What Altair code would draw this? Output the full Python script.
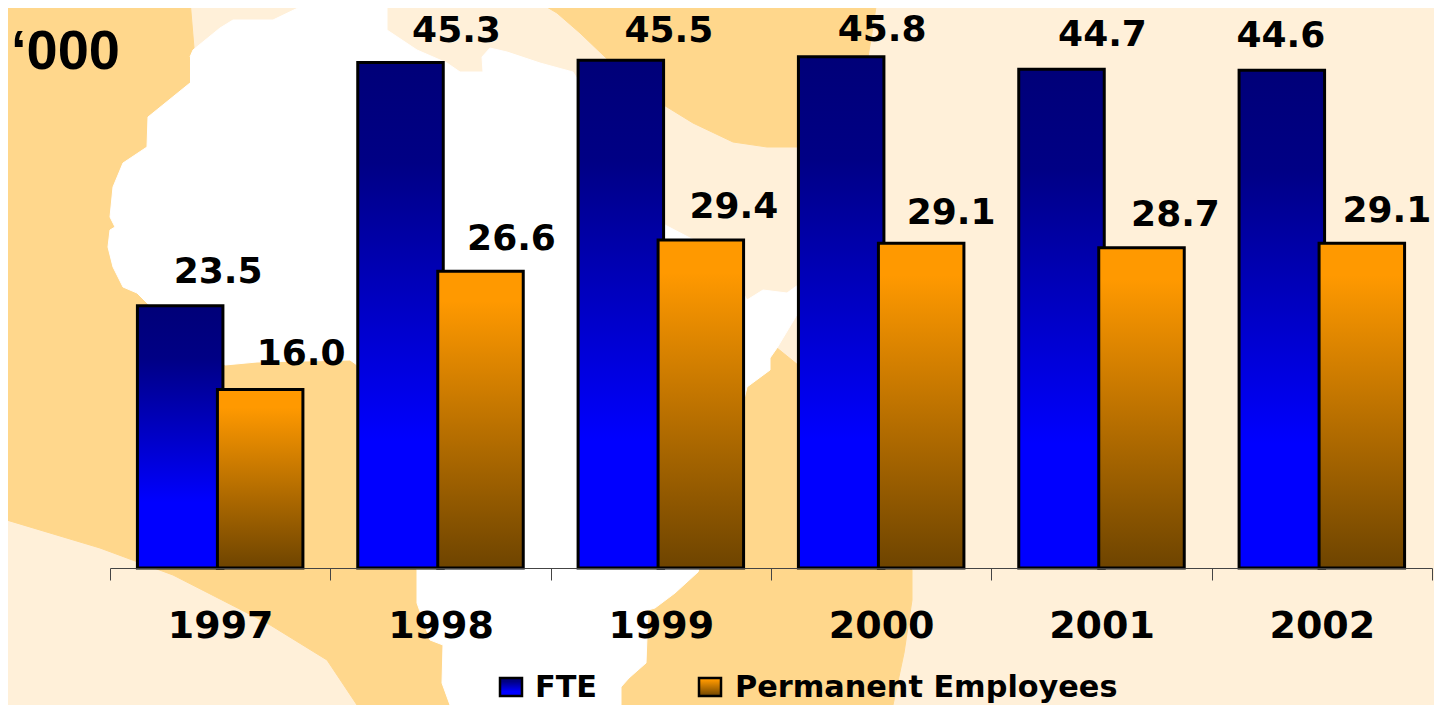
import altair as alt
import pandas as pd

YEARS = ["1997", "1998", "1999", "2000", "2001", "2002"]
FTE = [23.5, 45.3, 45.5, 45.8, 44.7, 44.6]
PERMANENT = [16.0, 26.6, 29.4, 29.1, 28.7, 29.1]

# label nudges (pixels from the middle of each year / from the bar top)
FTE_DX = [-2, 16, 8, 1, 1, -41]
FTE_DY = [-23, -20.5, -18.5, -16, -23, -23]
PERM_DX = [81, 71, 73, 70, 74, 65]
PERM_DY = [-24, -21, -22, -19, -22, -21]

# background map outlines, in picture pixels
LAND_X = [0, 190, 195, 300, 700, 777, 798, 912, 912, 904, 893, 357, 327, 267, 173, 100, 0]
LAND_Y = [0, 0, 60, 100, 300, 348, 365, 570, 600, 653, 705, 705, 660, 623, 575, 548, 518]
ARABIA_X = [535, 557, 580, 603, 640, 667, 693, 733, 767, 798, 860, 868, 872, 877]
ARABIA_Y = [0, 13, 33, 55, 90, 107, 123, 142, 147, 147, 100, 57, 33, 0]
AFRICA_X = [190, 193, 220, 233, 273, 300, 317, 387, 387, 417, 447, 460, 483, 482, 490, 507,
            540, 573, 620, 665, 690, 720, 747, 763, 787, 798, 798, 780, 777, 770, 770, 747,
            720, 698, 675, 655, 648, 646, 629, 621, 621, 450, 442, 443, 430, 417, 417, 357,
            350, 257, 225, 147, 137, 123, 113, 108, 110, 115, 110, 113, 123, 147, 148, 190]
AFRICA_Y = [57, 50, 28, 20, 20, 7, 0, 0, 30, 50, 63, 72, 72, 57, 48, 52,
            63, 72, 150, 225, 238, 250, 300, 290, 293, 285, 313, 343, 348, 358, 370, 387,
            500, 572, 593, 608, 610, 663, 678, 687, 705, 705, 683, 645, 640, 603, 570, 365,
            360, 362, 365, 303, 293, 287, 267, 247, 230, 227, 217, 187, 163, 147, 117, 83]

CREAM = "#FFF0D9"
SAND = "#FFD78C"
FONT = "DejaVu Sans"

PLOT_W, PLOT_H = 1322, 560
PX_PER_UNIT = 11.16
HALF_BAND = PLOT_W / len(YEARS) / 2


def shape(xs, ys, colour):
    df = pd.DataFrame({"px": xs, "py": ys, "i": range(len(xs))})
    return alt.Chart(df).mark_line(fill=colour, stroke=colour, strokeWidth=1).encode(
        x=alt.X("px:Q", axis=None, scale=alt.Scale(domain=[110, 1432], nice=False, zero=False)),
        y=alt.Y("py:Q", axis=None, scale=alt.Scale(domain=[568, 8], nice=False, zero=False)),
        order=alt.Order("i:Q"),
    )


x_scale = alt.Scale(domain=YEARS, paddingInner=0, paddingOuter=0)
y_scale = alt.Scale(domain=[0, PLOT_H / PX_PER_UNIT], nice=False)

blue = alt.Gradient(gradient="linear", x1=0, y1=0, x2=0, y2=1, stops=[
    alt.GradientStop(offset=0, color="#000078"),
    alt.GradientStop(offset=0.2, color="#000085"),
    alt.GradientStop(offset=0.75, color="#0000FF"),
    alt.GradientStop(offset=1, color="#0000FF"),
])
orange = alt.Gradient(gradient="linear", x1=0, y1=0, x2=0, y2=1, stops=[
    alt.GradientStop(offset=0, color="#FF9900"),
    alt.GradientStop(offset=0.1, color="#FF9900"),
    alt.GradientStop(offset=1, color="#6E4400"),
])

fte_df = pd.DataFrame({"year": YEARS, "v": FTE,
                       "dx": [d + HALF_BAND for d in FTE_DX],
                       "ly": [v - d / PX_PER_UNIT for v, d in zip(FTE, FTE_DY)]})
perm_df = pd.DataFrame({"year": YEARS, "v": PERMANENT,
                        "dx": [d + HALF_BAND for d in PERM_DX],
                        "ly": [v - d / PX_PER_UNIT for v, d in zip(PERMANENT, PERM_DY)]})


def bars(df, fill, offset, axis=None):
    return alt.Chart(df).mark_bar(
        fill=fill, stroke="#000000", strokeWidth=3, width=85.5, xOffset=offset
    ).encode(
        x=alt.X("year:N", sort=YEARS, scale=x_scale, axis=axis, title=None),
        y=alt.Y("v:Q", scale=y_scale, axis=None),
    )


def labels(df):
    return alt.Chart(df).mark_text(
        font=FONT, fontWeight="bold", fontSize=36, color="#000000",
        align="center", baseline="alphabetic",
    ).encode(
        x=alt.X("year:N", sort=YEARS, scale=x_scale, axis=None),
        y=alt.Y("ly:Q", scale=y_scale, axis=None),
        xOffset=alt.XOffset("dx:Q", scale=None),
        text=alt.Text("v:Q", format=".1f"),
    )


x_axis = alt.Axis(
    labelAngle=0, labelFont=FONT, labelFontWeight="bold", labelFontSize=38, labelColor="#000000",
    labelBaseline="alphabetic", labelPadding=57, tickBand="extent", tickSize=12, tickColor="#444444",
    tickWidth=1, domainColor="#444444", domainWidth=1, grid=False, zindex=1, labelOverlap=False,
)

one = pd.DataFrame({"a": [0]})


def swatch(fill, x0, x1):
    return alt.Chart(one).mark_rect(fill=fill, stroke="#000000", strokeWidth=2.5).encode(
        x=alt.value(x0), x2=alt.value(x1), y=alt.value(670), y2=alt.value(688),
    )


def caption(text, x0, baseline_y, font, size, weight="bold"):
    return alt.Chart(one).mark_text(
        text=text, font=font, fontWeight=weight, fontSize=size, color="#000000",
        align="left", baseline="alphabetic",
    ).encode(x=alt.value(x0), y=alt.value(baseline_y))


chart = alt.layer(
    shape(LAND_X, LAND_Y, SAND),
    shape(ARABIA_X, ARABIA_Y, SAND),
    shape(AFRICA_X, AFRICA_Y, "#FFFFFF"),
    bars(fte_df, blue, -40, x_axis),
    bars(perm_df, orange, 40),
    labels(fte_df),
    labels(perm_df),
    swatch(blue, 390, 412),
    swatch(orange, 589, 611),
    caption("FTE", 425, 689, FONT, 30.3),
    caption("Permanent Employees", 625, 689, FONT, 30.3),
    caption("\u2018000", -99, 61, "Liberation Sans", 56),
).resolve_scale(x="independent", y="independent").properties(
    width=PLOT_W,
    height=PLOT_H,
    background=CREAM,
    autosize=alt.AutoSizeParams(type="none"),
    padding={"left": 102, "right": 2, "top": 0, "bottom": 137},
).configure_view(stroke=None)

chart.save("out.html", embed_options={"renderer": "svg", "actions": False})
